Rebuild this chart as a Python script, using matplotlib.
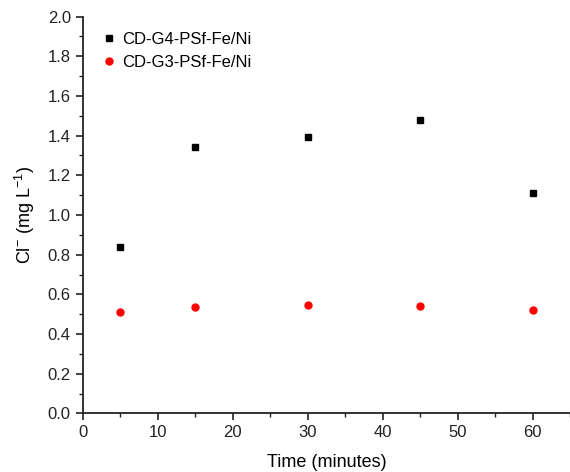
import matplotlib
matplotlib.use("Agg")
import matplotlib.pyplot as plt
from matplotlib.ticker import MultipleLocator

plt.rcParams['font.family'] = ['Liberation Sans', 'DejaVu Sans']
plt.rcParams['mathtext.default'] = 'regular'

time = [5, 15, 30, 45, 60]
g4 = [0.839, 1.343, 1.395, 1.48, 1.109]
g3 = [0.509, 0.538, 0.548, 0.540, 0.522]

fig = plt.figure(figsize=(5.7, 4.72), dpi=100)
ax = fig.add_axes([0.145, 0.124, 0.855, 0.841])

ax.plot(time, g4, 's', color='black', markersize=4.5, label='CD-G4-PSf-Fe/Ni')
ax.plot(time, g3, 'o', color='#ff0000', markersize=5, label='CD-G3-PSf-Fe/Ni')

ax.set_xlim(0, 65)
ax.set_ylim(0, 2.0)
ax.xaxis.set_major_locator(MultipleLocator(10))
ax.xaxis.set_minor_locator(MultipleLocator(5))
ax.yaxis.set_major_locator(MultipleLocator(0.2))
ax.yaxis.set_minor_locator(MultipleLocator(0.1))
ax.yaxis.set_major_formatter(matplotlib.ticker.FormatStrFormatter('%.1f'))

for s in ['top', 'right']:
    ax.spines[s].set_visible(False)
for s in ['left', 'bottom']:
    ax.spines[s].set_linewidth(1.3)
    ax.spines[s].set_color('#222222')

ax.tick_params(which='major', direction='out', length=5, width=1.2, labelsize=12, colors='#222222')
ax.tick_params(which='minor', direction='out', length=3, width=1.0, colors='#222222')

ax.set_xlabel('Time (minutes)', fontsize=13, labelpad=10)
ax.set_ylabel(r'Cl$^{-}$ (mg L$^{-1}$)', fontsize=13, labelpad=8)

ax.legend(loc='upper left', bbox_to_anchor=(0.01, 0.99), frameon=False, fontsize=12,
          handletextpad=0.2, borderaxespad=0.3, labelspacing=0.45, handlelength=1.2)

fig.savefig('out.png', dpi=100)
